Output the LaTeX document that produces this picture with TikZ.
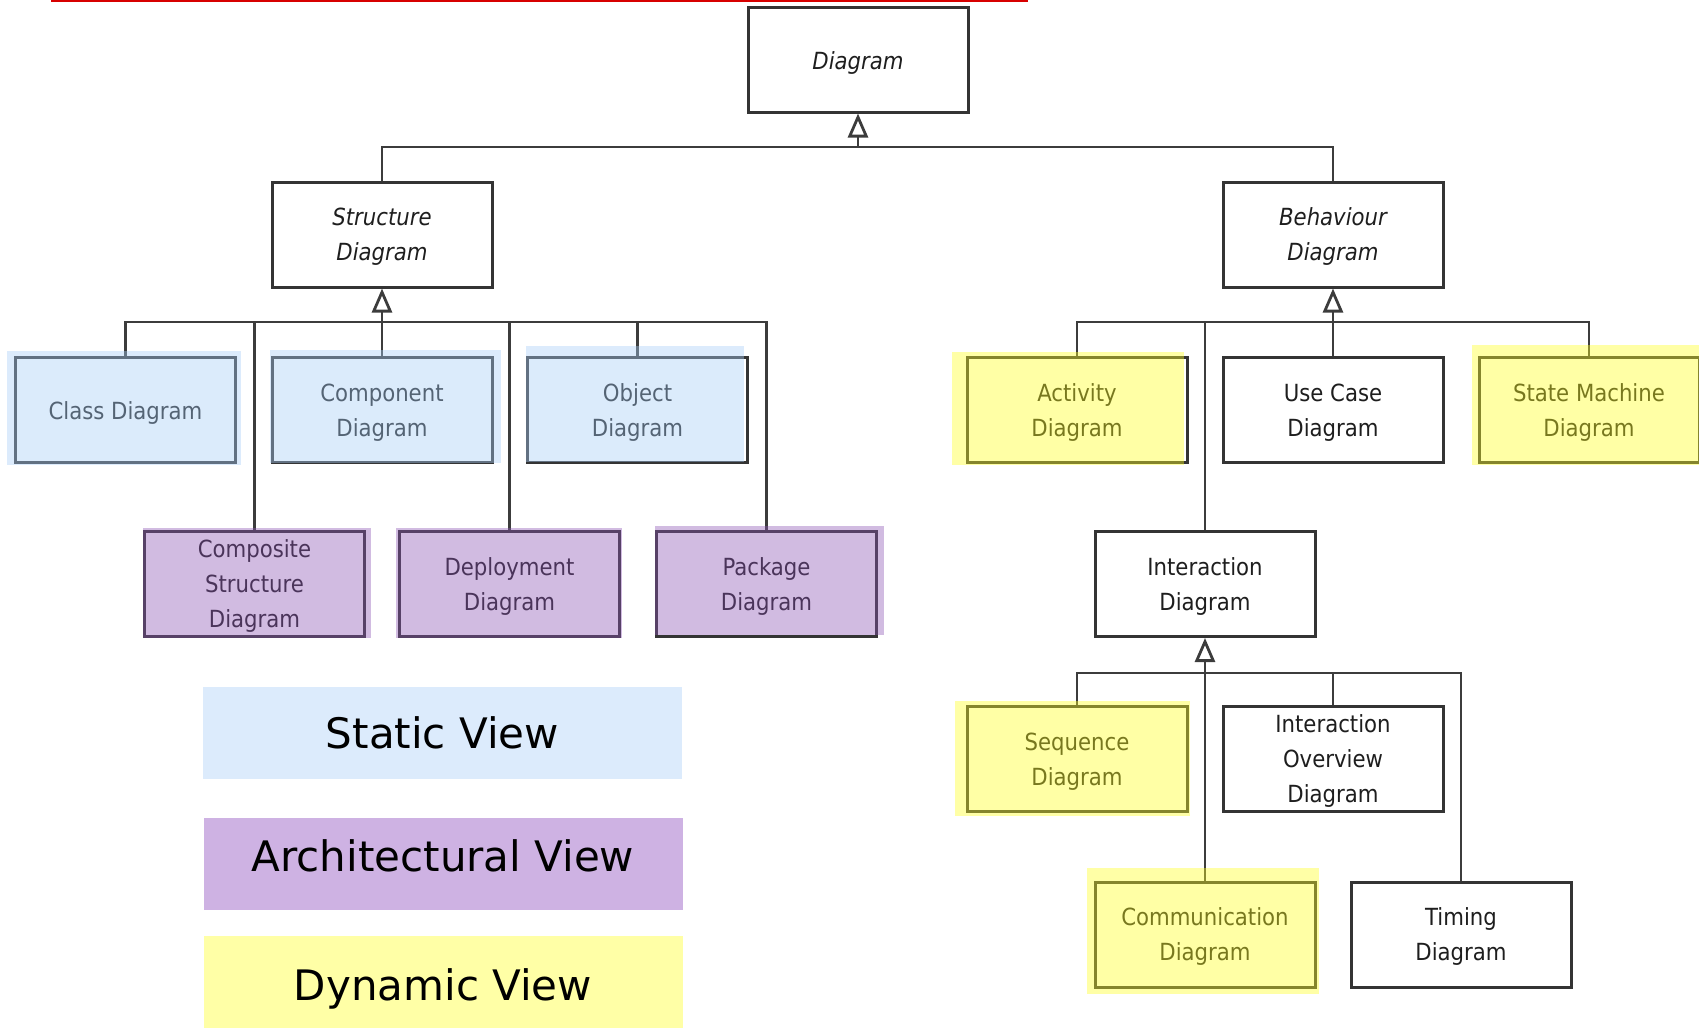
\documentclass[tikz,border=0pt]{standalone}
\usepackage{fontspec}
\setmainfont{DejaVu Sans}
\newfontfamily\umlfont{DejaVu Sans Condensed}[ItalicFont={DejaVu Sans Condensed Oblique}]
\usetikzlibrary{arrows.meta}

\definecolor{boxline}{RGB}{52,52,52}
\definecolor{boxtext}{RGB}{30,30,30}
\definecolor{linegrey}{RGB}{60,60,60}
\definecolor{topred}{RGB}{215,0,0}
\definecolor{staticbg}{RGB}{220,235,252}
\definecolor{archbg}{RGB}{206,178,227}
\definecolor{dynbg}{RGB}{255,255,166}
\definecolor{staticov}{RGB}{167,205,247}
\definecolor{archov}{RGB}{140,85,180}
\definecolor{dynov}{RGB}{255,255,32}

\begin{document}
\begin{tikzpicture}[x=0.5pt,y=-0.5pt]
\tikzstyle{every node}+=[inner sep=0pt]
\tikzstyle{basebox}=[draw=boxline, line width=1.5pt, fill=white, minimum width=110pt, minimum height=52.5pt, align=center, text=boxtext, font=\umlfont\fontsize{11.8pt}{17.5pt}\selectfont]
\tikzstyle{umlbox}=[basebox, text depth=-3pt]
\tikzstyle{onelinebox}=[basebox, execute at begin node=\rule{0pt}{12.2pt}]
\tikzstyle{abstract}=[font=\umlfont\itshape\fontsize{11.8pt}{17.5pt}\selectfont]
\tikzstyle{legendbox}=[minimum width=239.5pt, minimum height=46pt, text height=15.5pt, text depth=0pt, font=\fontsize{21pt}{25pt}\selectfont]
\tikzstyle{link}=[draw=linegrey, line width=1.4pt]
\tikzstyle{gen}=[link, -{Triangle[open, length=12pt, width=10pt]}]
\tikzstyle{staticglow}=[fill=staticov, fill opacity=0.4]
\tikzstyle{archglow}=[fill=archov, fill opacity=0.4]
\tikzstyle{dynglow}=[fill=dynov, fill opacity=0.4]
\useasboundingbox (0,0) rectangle (1699,1028);

\draw [topred, line width=1pt] (51,1) -- (1028,1);

% abstract diagrams
\node [onelinebox, abstract] (diag) at (858,59.5) {Diagram};
\node [umlbox, abstract] (struct) at (382,234.5) {Structure\\Diagram};
\node [umlbox, abstract] (behav) at (1333,234.5) {Behaviour\\Diagram};

% structure diagrams
\node [onelinebox] (cls) at (125.5,410) {Class Diagram};
\node [umlbox] (comp) at (382,410) {Component\\Diagram};
\node [umlbox] (obj) at (637.5,410) {Object\\Diagram};
\node [umlbox] (compos) at (254.5,584) {Composite\\Structure\\Diagram};
\node [umlbox] (deploy) at (509.5,584) {Deployment\\Diagram};
\node [umlbox] (pkg) at (766.5,584) {Package\\Diagram};

% behaviour diagrams
\node [umlbox] (act) at (1077,410) {Activity\\Diagram};
\node [umlbox] (usecase) at (1333,410) {Use Case\\Diagram};
\node [umlbox] (state) at (1589,410) {State Machine\\Diagram};
\node [umlbox] (inter) at (1205,584) {Interaction\\Diagram};
\node [umlbox] (seq) at (1077,759) {Sequence\\Diagram};
\node [umlbox] (overview) at (1333,759) {Interaction\\Overview\\Diagram};
\node [umlbox] (comm) at (1205,934.5) {Communication\\Diagram};
\node [umlbox] (timing) at (1461,934.5) {Timing\\Diagram};

% generalisation trees
\coordinate (topbar) at (858,147);
\draw [link] (struct.north) |- (topbar);
\draw [link] (behav.north) |- (topbar);
\draw [gen] (topbar) -- (diag.south);

\coordinate (sbar) at (382,322);
\draw [link] (cls.north) |- (sbar);
\draw [link] (compos.north) -- (compos.north |- sbar);
\draw [link] (deploy.north) -- (deploy.north |- sbar);
\draw [link] (obj.north) -- (obj.north |- sbar);
\draw [link] (pkg.north) |- (sbar);
\draw [link] (comp.north) -- (sbar);
\draw [gen] (sbar) -- (struct.south);

\coordinate (bbar) at (1333,322);
\draw [link] (act.north) |- (bbar);
\draw [link] (inter.north) -- (inter.north |- bbar);
\draw [link] (state.north) |- (bbar);
\draw [link] (usecase.north) -- (bbar);
\draw [gen] (bbar) -- (behav.south);

\coordinate (ibar) at (1205,673);
\draw [link] (seq.north) |- (ibar);
\draw [link] (overview.north) -- (overview.north |- ibar);
\draw [link] (timing.north) |- (ibar);
\draw [link] (comm.north) -- (ibar);
\draw [gen] (ibar) -- (inter.south);

% view colouring
\fill [staticglow] ([shift={(-7,-5)}]cls.north west) rectangle ([shift={(4,1)}]cls.south east);
\fill [staticglow] ([shift={(-1,-6)}]comp.north west) rectangle ([shift={(7,-1)}]comp.south east);
\fill [staticglow] ([shift={(0,-10)}]obj.north west) rectangle ([shift={(-5,-2)}]obj.south east);
\fill [archglow] ([shift={(0,-2)}]compos.north west) rectangle ([shift={(5,0)}]compos.south east);
\fill [archglow] ([shift={(-2,-2)}]deploy.north west) rectangle ([shift={(1,0)}]deploy.south east);
\fill [archglow] ([shift={(0,-4)}]pkg.north west) rectangle ([shift={(6,-3)}]pkg.south east);
\fill [dynglow] ([shift={(-14,-4)}]act.north west) rectangle ([shift={(-5,1)}]act.south east);
\fill [dynglow] ([shift={(-6,-11)}]state.north west) rectangle ([shift={(5,1)}]state.south east);
\fill [dynglow] ([shift={(-11,-4)}]seq.north west) rectangle ([shift={(1,3)}]seq.south east);
\fill [dynglow] ([shift={(-7,-13)}]comm.north west) rectangle ([shift={(2,5)}]comm.south east);

% legend
\node [legendbox, fill=staticbg] (static) at (442.5,733) {Static View};
\node [legendbox, fill=archbg, text depth=7.6pt] (arch) at (443,864) {Architectural View};
\node [legendbox, fill=dynbg, text height=18.7pt] (dynamic) at (443,982) {Dynamic View};
\end{tikzpicture}
\end{document}
